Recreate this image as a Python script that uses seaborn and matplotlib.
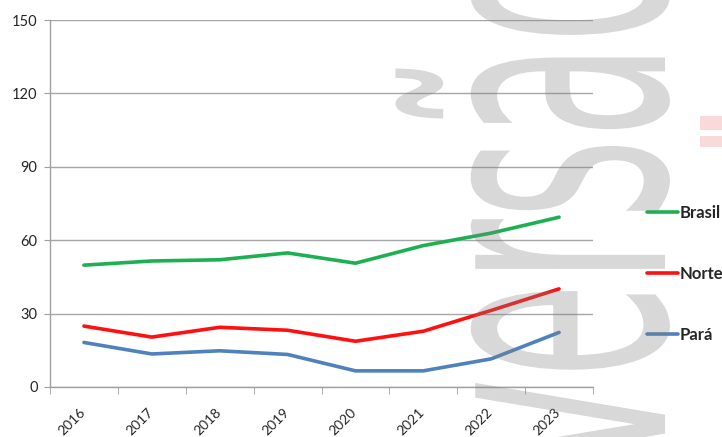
"""Série 2016-2023: Brasil, Norte e Pará (linhas) com marca d'água 'versão'."""

import matplotlib

matplotlib.use("Agg")
import matplotlib.pyplot as plt
import numpy as np
import pandas as pd
import seaborn as sns
from matplotlib.font_manager import FontProperties
from matplotlib.patches import PathPatch, Rectangle
from matplotlib.textpath import TextPath
from matplotlib.transforms import Affine2D

anos = ["2016", "2017", "2018", "2019", "2020", "2021", "2022", "2023"]
brasil = [49.8, 51.5, 52.0, 54.8, 50.6, 57.8, 62.9, 69.4]
norte = [24.9, 20.4, 24.4, 23.2, 18.7, 22.8, 31.3, 40.1]
para = [18.2, 13.5, 14.8, 13.3, 6.6, 6.6, 11.5, 22.3]
series = ["Brasil", "Norte", "Pará"]
cores = ["#1DB052", "#FF1010", "#4F81BD"]
y_ticks = [0, 30, 60, 90, 120, 150]

DPI = 100

df = pd.DataFrame({
    "idx": list(range(len(anos))) * 3,
    "valor": brasil + norte + para,
    "serie": np.repeat(series, len(anos)),
})

sns.set_style("white")
plt.rcParams["font.family"] = ["Lato", "DejaVu Sans"]

fig = plt.figure(figsize=(7.22, 4.37), dpi=DPI)
ax = fig.add_axes([50 / 722, 50 / 437, 543 / 722, 367 / 437])

sns.lineplot(data=df, x="idx", y="valor", hue="serie", palette=dict(zip(series, cores)),
             linewidth=2.6, ax=ax, legend=True, zorder=3)

ax.set_xlim(-0.5, len(anos) - 0.5)
ax.set_ylim(0, 150)
ax.set_yticks(y_ticks)
ax.yaxis.grid(True, color="#A6A6A6", linewidth=1.0)
ax.set_axisbelow(True)
ax.set_xlabel("")
ax.set_ylabel("")

# category labels at the centres, tick marks on the boundaries (Excel style)
ax.set_xticks(range(len(anos)))
ax.set_xticklabels(anos, rotation=45, ha="right", va="top", rotation_mode="anchor", fontsize=10)
ax.tick_params(axis="x", which="major", length=0, pad=14)
ax.set_xticks(np.arange(-0.5, len(anos)), minor=True)
ax.tick_params(axis="x", which="minor", length=5, color="#A0A0A0", direction="out", bottom=True)
ax.tick_params(axis="y", length=4, color="#A0A0A0", direction="out", left=True, labelsize=10.5, pad=5)
for lbl in ax.get_xticklabels():
    lbl.set_transform(lbl.get_transform() + Affine2D().translate(-5, 0))

for side in ["top", "right"]:
    ax.spines[side].set_visible(False)
for side in ["left", "bottom"]:
    ax.spines[side].set_color("#A0A0A0")
    ax.spines[side].set_linewidth(1.0)

handles, labels = ax.get_legend_handles_labels()
leg = ax.legend(handles, labels, loc="center left", bbox_to_anchor=(647 / 722, 163 / 437),
                bbox_transform=fig.transFigure, frameon=False, borderpad=0, borderaxespad=0,
                handlelength=1.85, handletextpad=0.08, labelspacing=2.7,
                prop=FontProperties(family=["Lato", "DejaVu Sans"], weight="bold", size=12))
for t in leg.get_texts():
    t.set_color("#262626")

# watermark: tall, condensed "versão" reading bottom to top
tp = TextPath((0, 0), "versão", size=1, prop=FontProperties(family="DejaVu Sans"))
wm_tr = (Affine2D().scale(155, 347).rotate_deg(90).translate(665, -33).scale(1 / DPI)
         + fig.dpi_scale_trans)
fig.add_artist(PathPatch(tp, transform=wm_tr, facecolor="#808080", edgecolor="none",
                         alpha=0.3, zorder=10))
for yb, h in [(437 - 130, 14), (437 - 147, 11)]:
    fig.add_artist(Rectangle((700 / 722, yb / 437), 30 / 722, h / 437, transform=fig.transFigure,
                             facecolor="#F9D9D9", edgecolor="none", zorder=10))

fig.savefig("out.png", dpi=DPI)
